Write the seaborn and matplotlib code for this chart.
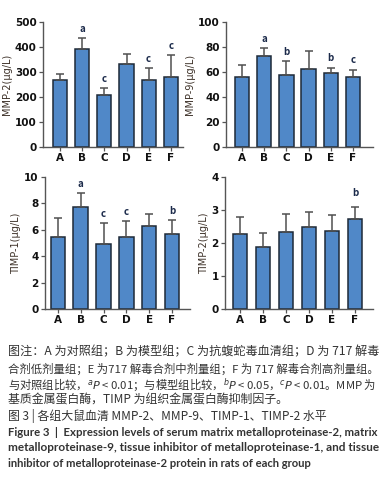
import matplotlib
matplotlib.use('Agg')
import matplotlib.pyplot as plt
import numpy as np
import pandas as pd
import seaborn as sns

# %%
groups = ['A', 'B', 'C', 'D', 'E', 'F']

mmp2_mean = [270, 394, 207, 333, 270, 282]
mmp2_sd = [23, 42, 30, 40, 46, 85]
mmp2_sig = ['', 'a', 'c', '', 'c', 'c']

mmp9_mean = [56, 73, 58, 62.5, 59, 56]
mmp9_sd = [9.5, 6, 10.5, 14.5, 4.5, 6]
mmp9_sig = ['', 'a', 'b', '', 'b', 'c']

timp1_mean = [5.46, 7.76, 4.95, 5.46, 6.28, 5.66]
timp1_sd = [1.4, 1.02, 1.53, 1.17, 0.89, 1.06]
timp1_sig = ['', 'a', 'c', 'c', '', 'b']

timp2_mean = [2.28, 1.88, 2.33, 2.48, 2.35, 2.72]
timp2_sd = [0.5, 0.43, 0.56, 0.47, 0.5, 0.38]
timp2_sig = ['', '', '', '', '', 'b']

bar_color = '#5088c8'
cjk = ['Noto Sans CJK SC', 'DejaVu Sans']

sns.set_style('ticks')
plt.rcParams['font.family'] = cjk
plt.rcParams['mathtext.fontset'] = 'dejavusans'


def draw_panel(ax, mean, sd, sig, ylabel, ymax, step, xlim, sig_offset=3):
    df = pd.DataFrame({'group': groups, 'value': mean})
    sns.barplot(data=df, x='group', y='value', ax=ax, color=bar_color,
                saturation=1, width=0.64, edgecolor='#1e2a38', linewidth=1.1,
                errorbar=None)
    x = np.arange(len(groups))
    ax.errorbar(x, mean, yerr=[np.zeros(len(sd)), sd], fmt='none',
                ecolor='#505050', elinewidth=1.1, capsize=3, capthick=1.1, zorder=1)
    for xi, m, s, lab in zip(x, mean, sd, sig):
        if lab:
            ax.annotate(lab, xy=(xi, m + s), xytext=(0, sig_offset),
                        textcoords='offset points', ha='center', va='bottom',
                        fontsize=7, fontweight='bold', color='#1b2a4a')
    ax.set_ylim(0, ymax)
    ax.set_yticks(np.arange(0, ymax + step / 2, step))
    ax.set_xlim(*xlim)
    ax.set_xlabel('')
    ax.set_ylabel(ylabel, fontsize=7, color='#3d3128', family=['DejaVu Sans'], labelpad=2)
    sns.despine(ax=ax)
    for sp in ['left', 'bottom']:
        ax.spines[sp].set_color('#555555')
        ax.spines[sp].set_linewidth(1.0)
    ax.tick_params(axis='both', length=3, width=0.9, color='#555555', pad=1.5)
    for lab in ax.get_xticklabels() + ax.get_yticklabels():
        lab.set_fontweight('bold')
        lab.set_fontsize(7.5)
        lab.set_family(['DejaVu Sans'])
        lab.set_color('#111111')


fig = plt.figure(figsize=(3.83, 4.8), dpi=100)
W, H = 383, 480


def place(l, t, r, b):
    return fig.add_axes([l / W, 1 - b / H, (r - l) / W, (b - t) / H])


ax1 = place(43, 22, 183, 147)
ax2 = place(226, 22, 373, 147)
ax3 = place(45, 177, 190, 309)
ax4 = place(225, 177, 373, 309)

draw_panel(ax1, mmp2_mean, mmp2_sd, mmp2_sig, 'MMP-2(μg/L)', 500, 100, (-0.77, 5.55))
draw_panel(ax2, mmp9_mean, mmp9_sd, mmp9_sig, 'MMP-9(μg/L)', 100, 20, (-0.72, 5.9))
draw_panel(ax3, timp1_mean, timp1_sd, timp1_sig, 'TIMP-1(μg/L)', 10, 2, (-0.57, 5.79))
draw_panel(ax4, timp2_mean, timp2_sd, timp2_sig, 'TIMP-2(μg/L)', 4, 1, (-0.65, 5.78), sig_offset=6)

# caption
renderer = fig.canvas.get_renderer()


def fit_line(txt, y, size, width=None, **kw):
    # shrink/grow a line so it fills the column like the justified original
    t = fig.text(8 / W, 1 - y / H, txt, fontsize=size, color='#333333',
                 va='center', ha='left', **kw)
    if width is not None:
        w = t.get_window_extent(renderer).width
        t.set_fontsize(min(size * width / w, size * 1.06))
    return t


note_lines = [
    '图注：A 为对照组；B 为模型组；C 为抗蝮蛇毒血清组；D 为 717 解毒',
    '合剂低剂量组；E 为717 解毒合剂中剂量组；F 为 717 解毒合剂高剂量组。',
    r'与对照组比较，$^{a}P$ < 0.01；与模型组比较，$^{b}P$ < 0.05，$^{c}P$ < 0.01。MMP 为',
    '基质金属蛋白酶，TIMP 为组织金属蛋白酶抑制因子。',
]
note_y = [352, 368.5, 385, 400.5]
note_w = [368, 368, 368, None]
for txt, y, w in zip(note_lines, note_y, note_w):
    fit_line(txt, y, 8.6, w, family=cjk)

fit_line('图 3 | 各组大鼠血清 MMP-2、MMP-9、TIMP-1、TIMP-2 水平', 416, 8.6, family=cjk)

en_lines = [
    'Figure 3  |  Expression levels of serum matrix metalloproteinase-2, matrix',
    'metalloproteinase-9, tissue inhibitor of metalloproteinase-1, and tissue',
    'inhibitor of metalloproteinase-2 protein in rats of each group',
]
en_y = [432, 447.5, 463.5]
en_w = [368, 368, None]
for txt, y, w in zip(en_lines, en_y, en_w):
    fit_line(txt, y, 8.1, w, fontweight='bold', family=['Lato', 'DejaVu Sans'])

fig.savefig('out.png', dpi=100)
